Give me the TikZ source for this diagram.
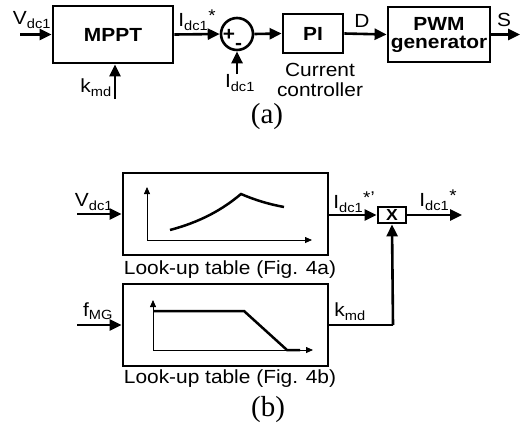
\documentclass[tikz,border=0pt]{standalone}
\usepackage{fontspec}
\setmainfont{Liberation Sans}[FakeStretch=1.1]
\newfontfamily\tnr{Liberation Serif}
\usetikzlibrary{arrows.meta}
\newcommand{\lbsub}[1]{\textsubscript{#1}}
\newcommand{\lbstar}{\raisebox{0.25em}{\fontsize{17}{17}\selectfont *}}
\begin{document}
\begin{tikzpicture}[x=1pt,y=-1pt,
  every node/.style={font=\fontsize{19}{21}\selectfont},
  blk/.style={draw,line width=2.8pt,inner sep=0pt,align=center},
  sig/.style={line width=2.6pt,-{Triangle[length=12pt,width=11pt]}},
  ax/.style={line width=0.8pt,-{Triangle[length=7pt,width=6pt]}},
  crv/.style={line width=2.5pt},
  lbl/.style={inner sep=0pt},
  subcap/.style={inner sep=0pt,font=\tnr\fontsize{29}{31}\selectfont}]
\useasboundingbox (0,0) rectangle (522,426);
% ---------- (a)
\node[blk,minimum width=120pt,minimum height=57pt] (mppt) at (113,34.5) {\textbf{MPPT}};
\node[draw,circle,line width=2.6pt,minimum size=32pt,inner sep=0pt] (sum) at (237,34) {};
\node[blk,minimum width=60pt,minimum height=39pt] (pi) at (313,33.5) {\textbf{PI}};
\node[blk,minimum width=102pt,minimum height=55pt] (pwm) at (439,34.5) {\textbf{PWM}\\[-3pt]\textbf{generator}};
\coordinate (vin) at (20,34.5);
\coordinate (kin) at (115,99);
\coordinate (iin) at (237,74);
\coordinate (sout) at (520,34.5);
\draw[sig] (vin) -- (mppt.west);
\draw[sig] (kin) -- (kin |- mppt.south);
\draw[sig] (mppt.east) -- (sum.west);
\draw[sig] (iin) -- (sum.south);
\draw[sig] (sum.east) -- (pi.west);
\draw[sig] (pi.east) -- (pwm.west);
\draw[sig] (pwm.east) -- (sout);
\node[lbl] (lv) at (32,20) {V\lbsub{dc1}};
\node[lbl] (li) at (197,20) {I\lbsub{dc1}\lbstar};
\node[lbl] (lk) at (96,88) {k\lbsub{md}};
\node[lbl,font=\bfseries\fontsize{19}{21}\selectfont] (lp) at (229,35) {+};
\node[lbl,font=\bfseries\fontsize{19}{21}\selectfont] (lm) at (238.5,46) {-};
\node[lbl] (li2) at (240,83) {I\lbsub{dc1}};
\node[lbl] (ld) at (362,21) {D};
\node[lbl] (ls) at (504,20) {S};
\node[lbl,align=center] (lcc) at (320,79.5) {Current\\[-1pt]controller};
\node[subcap] (capa) at (267,117) {(a)};
% ---------- (b)
\node[blk,minimum width=205pt,minimum height=82pt] (lut1) at (225.5,214) {};
\node[blk,minimum width=205pt,minimum height=82pt] (lut2) at (225.5,325) {};
\node[blk,minimum width=28pt,minimum height=16pt,font=\bfseries\fontsize{16}{16}\selectfont] (mult) at (392,215) {X};
\coordinate (vin2) at (77,214);
\coordinate (fin) at (77,325);
\coordinate (iout) at (462,215);
\coordinate (kc) at (393,325);
\draw[sig] (vin2) -- (lut1.west);
\draw[sig] (fin) -- (lut2.west);
\draw[sig] (lut1.east |- mult.west) -- (mult.west);
\draw[sig] (mult.east) -- (iout);
\draw[line width=2.6pt] (lut2.east) -- (kc);
\draw[sig] (kc) -- (mult.south);
\node[lbl] (lv2) at (94,202) {V\lbsub{dc1}};
\node[lbl] (lf) at (98,311) {f\lbsub{MG}};
\node[lbl] (li3) at (354,202) {I\lbsub{dc1}\raisebox{0.25em}{\fontsize{17}{17}\selectfont *'}};
\node[lbl] (li4) at (438,200) {I\lbsub{dc1}\lbstar};
\node[lbl] (lk2) at (350,312) {k\lbsub{md}};
\node[lbl] (c1) at (230,270) {Look-up table (Fig. 4a)};
\node[lbl] (c2) at (230,379) {Look-up table (Fig. 4b)};
\node[subcap] (capb) at (268,410) {(b)};
% graph 1
\coordinate (o1) at (147,240);
\draw[ax] (o1) -- (147,187);
\draw[ax] (o1) -- (312,240);
\draw[crv] (170,230) .. controls (200,222) and (222,210) .. (241,194)
  .. controls (255,200) and (268,204) .. (284,207);
% graph 2
\coordinate (o2) at (153,350);
\draw[ax] (o2) -- (153,300);
\draw[ax] (o2) -- (313,350);
\draw[crv] (153,311) -- (244,311) -- (287,350) -- (300,350);
\end{tikzpicture}
\end{document}
